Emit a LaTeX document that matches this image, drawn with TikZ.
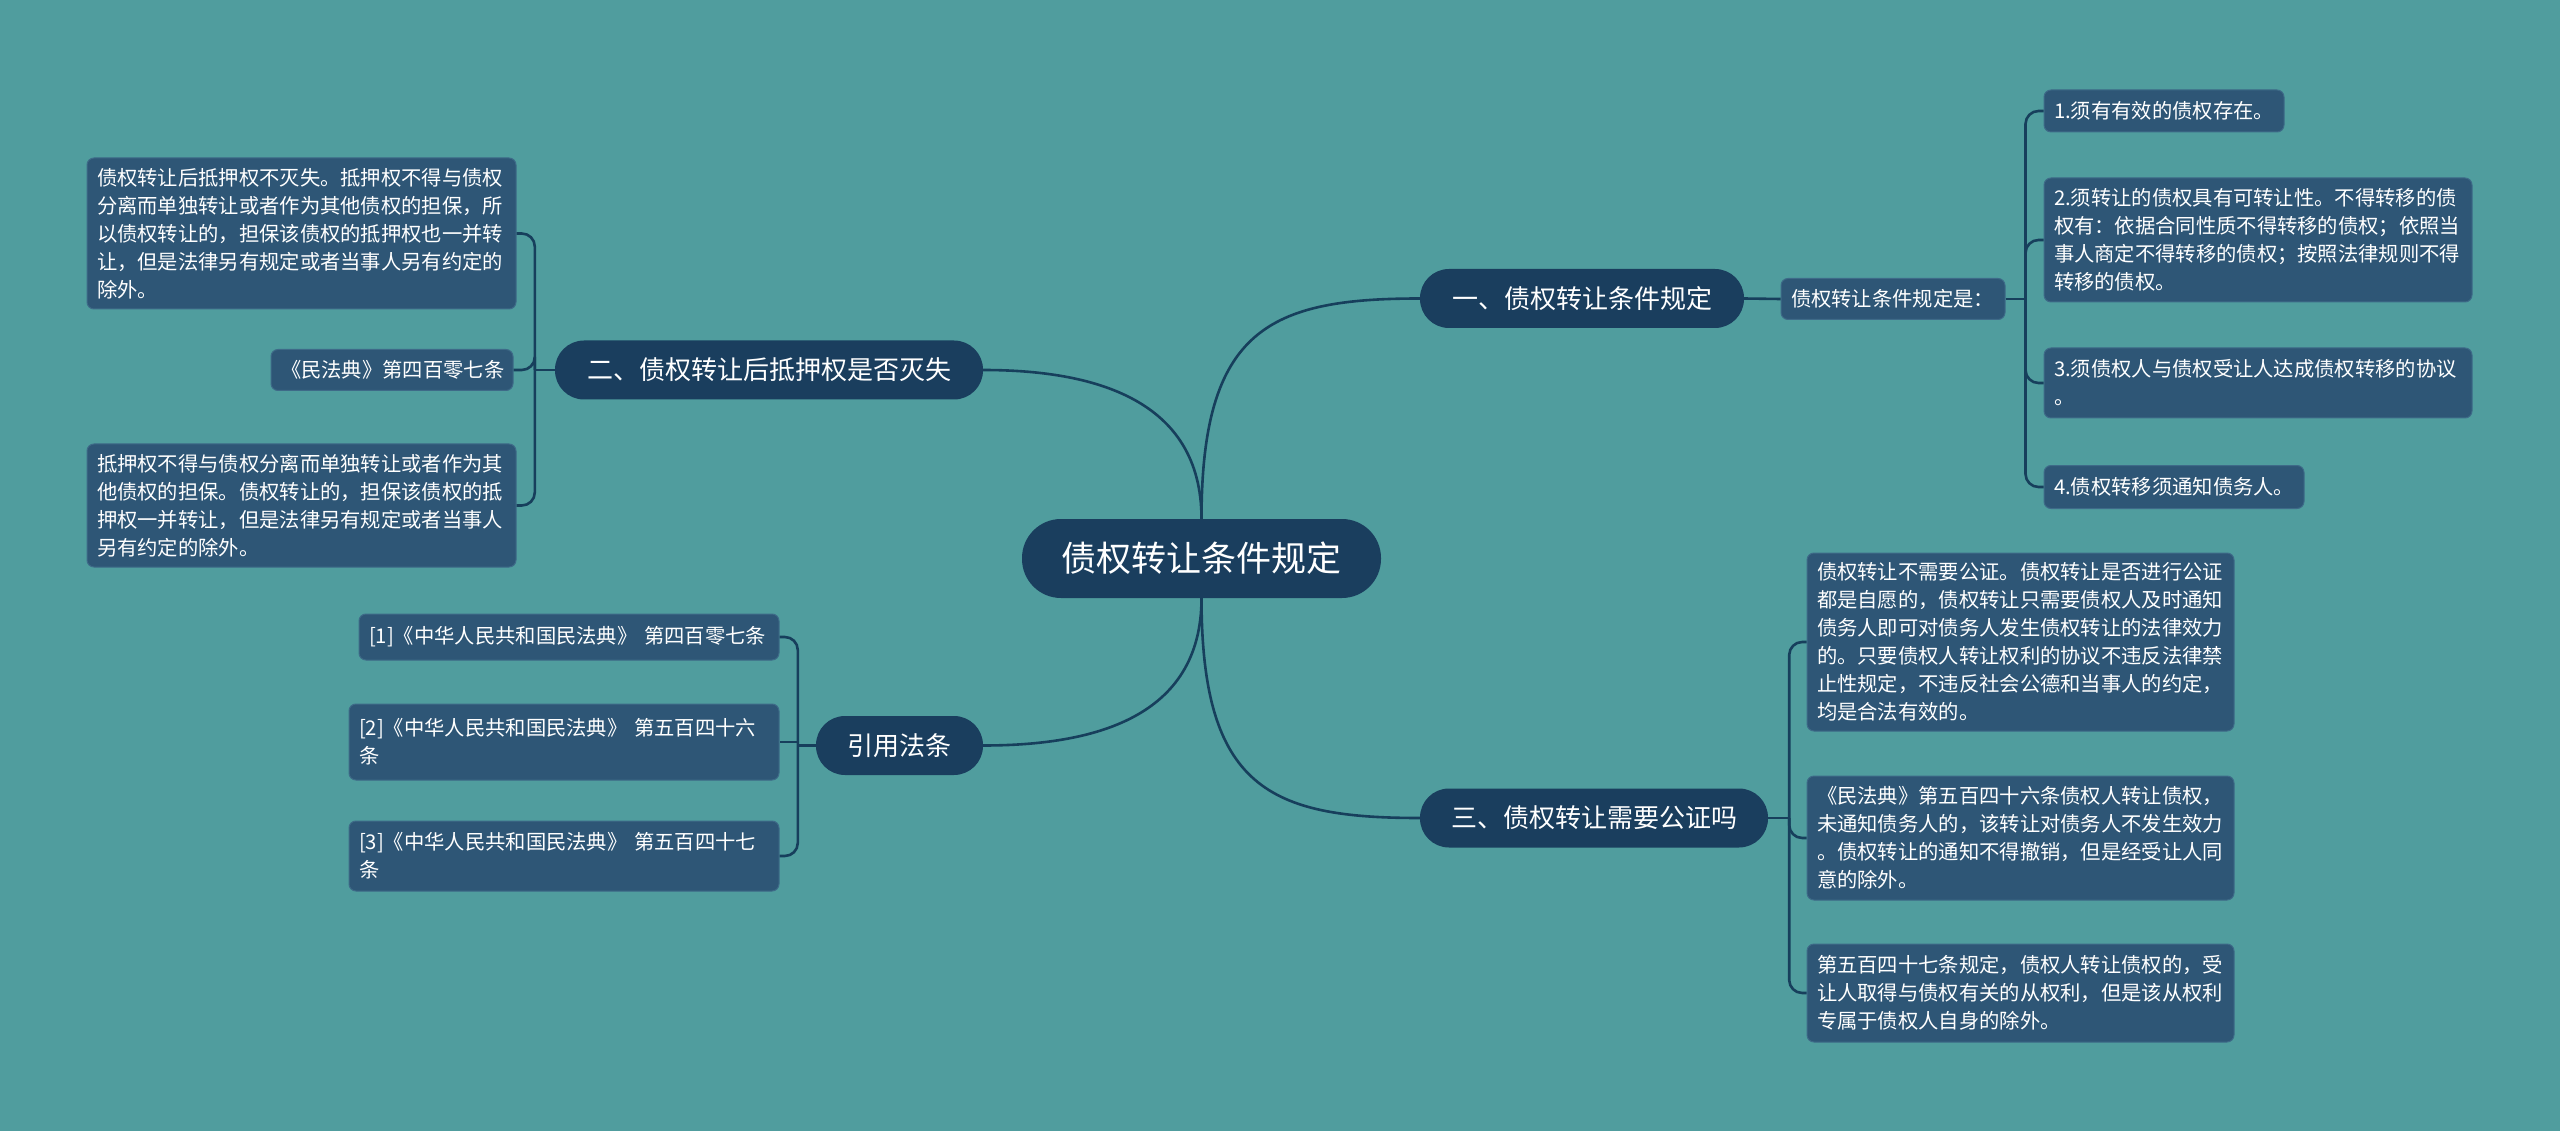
\documentclass[tikz,border=0pt]{standalone}
\usepackage{fontspec}
\newfontfamily\cjk{Noto Sans CJK SC}
\usetikzlibrary{calc}
\definecolor{bg}{HTML}{509D9E}
\definecolor{mainfill}{HTML}{1A3E5E}
\definecolor{leaffill}{HTML}{2E5676}
\definecolor{leafline}{HTML}{3E6A88}
\definecolor{linec}{HTML}{173F5C}
\begin{document}
\begin{tikzpicture}[x=1pt,y=-1pt,
  conn/.style={draw=linec, line width=2.6pt},
  brconn/.style={conn, rounded corners=13pt},
  rootnode/.style={fill=mainfill, text=white, rounded corners=39pt, minimum width=359pt, minimum height=79pt, font=\cjk\fontsize{35}{42}\selectfont, inner sep=0pt},
  topic/.style={fill=mainfill, text=white, rounded corners=29pt, minimum height=59pt, font=\cjk\fontsize{26}{32}\selectfont, inner sep=0pt},
  leaf/.style={fill=leaffill, draw=leafline, line width=1pt, rounded corners=7pt, text=white, font=\cjk\fontsize{20.3}{28}\selectfont, align=left, inner xsep=10pt, inner ysep=0pt},
]
\fill[bg] (0,0) rectangle (2560,1131);
\useasboundingbox (0,0) rectangle (2560,1131);

% root and topics
\node[rootnode] (root) at (1201.5,558.5) {债权转让条件规定};
\node[topic, minimum width=324pt] (t1) at (1582,298.5) {一、债权转让条件规定};
\node[topic, minimum width=428pt] (t2) at (769,370) {二、债权转让后抵押权是否灭失};
\node[topic, minimum width=167pt] (t3) at (899.5,745.5) {引用法条};
\node[topic, minimum width=348pt] (t4) at (1594,818) {三、债权转让需要公证吗};

% branch 1 leaves
\node[leaf, text width=204pt, minimum height=41pt] (s1) at (1893,299) {债权转让条件规定是：};
\node[leaf, text width=220pt, minimum height=42pt] (a) at (2164,111) {1.须有有效的债权存在。};
\node[leaf, text width=408pt, minimum height=124pt] (b) at (2258,240) {2.须转让的债权具有可转让性。不得转移的债\\权有：依据合同性质不得转移的债权；依照当\\事人商定不得转移的债权；按照法律规则不得\\转移的债权。};
\node[leaf, text width=408pt, minimum height=70pt] (c) at (2258,383) {3.须债权人与债权受让人达成债权转移的协议\\。};
\node[leaf, text width=240pt, minimum height=43pt] (d) at (2174,487) {4.债权转移须通知债务人。};

% branch 2 leaves
\node[leaf, text width=409pt, minimum height=151pt] (l1) at (301.5,233.5) {债权转让后抵押权不灭失。抵押权不得与债权\\分离而单独转让或者作为其他债权的担保，所\\以债权转让的，担保该债权的抵押权也一并转\\让，但是法律另有规定或者当事人另有约定的\\除外。};
\node[leaf, text width=222pt, minimum height=41pt] (l2) at (392,370) {《民法典》第四百零七条};
\node[leaf, text width=409pt, minimum height=123pt] (l3) at (301.5,505.5) {抵押权不得与债权分离而单独转让或者作为其\\他债权的担保。债权转让的，担保该债权的抵\\押权一并转让，但是法律另有规定或者当事人\\另有约定的除外。};

% citations
\node[leaf, text width=400pt, minimum height=46pt] (r1) at (569,637) {[1]《中华人民共和国民法典》~第四百零七条};
\node[leaf, text width=410pt, minimum height=76pt] (r2) at (564,742) {[2]《中华人民共和国民法典》~第五百四十六\\条};
\node[leaf, text width=410pt, minimum height=70pt] (r3) at (564,856) {[3]《中华人民共和国民法典》~第五百四十七\\条};

% branch 3 leaves
\node[leaf, text width=407pt, minimum height=178pt] (p1) at (2020.5,642) {债权转让不需要公证。债权转让是否进行公证\\都是自愿的，债权转让只需要债权人及时通知\\债务人即可对债务人发生债权转让的法律效力\\的。只要债权人转让权利的协议不违反法律禁\\止性规定，不违反社会公德和当事人的约定，\\均是合法有效的。};
\node[leaf, text width=407pt, minimum height=124pt] (p2) at (2020.5,838) {《民法典》第五百四十六条债权人转让债权，\\未通知债务人的，该转让对债务人不发生效力\\。债权转让的通知不得撤销，但是经受让人同\\意的除外。};
\node[leaf, text width=407pt, minimum height=98pt] (p3) at (2020.5,993) {第五百四十七条规定，债权人转让债权的，受\\让人取得与债权有关的从权利，但是该从权利\\专属于债权人自身的除外。};

% main curves
\draw[conn] (root.north) .. controls +(0,-190) and +(-150,0) .. (t1.west);
\draw[conn] (root.north) .. controls +(0,-120) and +(110,0) .. (t2.east);
\draw[conn] (root.south) .. controls +(0,120) and +(110,0) .. (t3.east);
\draw[conn] (root.south) .. controls +(0,190) and +(-150,0) .. (t4.west);

% branch 1 bracket
\draw[conn] (t1.east) -- (s1.west);
\coordinate (j1) at ($(s1.east)+(20,0)$);
\draw[conn] (s1.east) -- (j1);
\foreach \n in {a,b,c,d} \draw[brconn] (j1) |- (\n.west);

% branch 2 bracket
\coordinate (j2) at ($(t2.west)+(-20,0)$);
\draw[conn] (t2.west) -- (j2);
\foreach \n in {l1,l2,l3} \draw[brconn] (j2) |- (\n.east);

% citations bracket
\coordinate (j3) at ($(t3.west)+(-18,0)$);
\draw[conn] (t3.west) -- (j3);
\draw[brconn] (j3) |- (r1.east);
\draw[conn] (j3) |- (r2.east);
\draw[brconn] (j3) |- (r3.east);

% branch 3 bracket
\coordinate (j4) at ($(t4.east)+(21,0)$);
\draw[conn] (t4.east) -- (j4);
\foreach \n in {p1,p2,p3} \draw[brconn] (j4) |- (\n.west);
\end{tikzpicture}
\end{document}
